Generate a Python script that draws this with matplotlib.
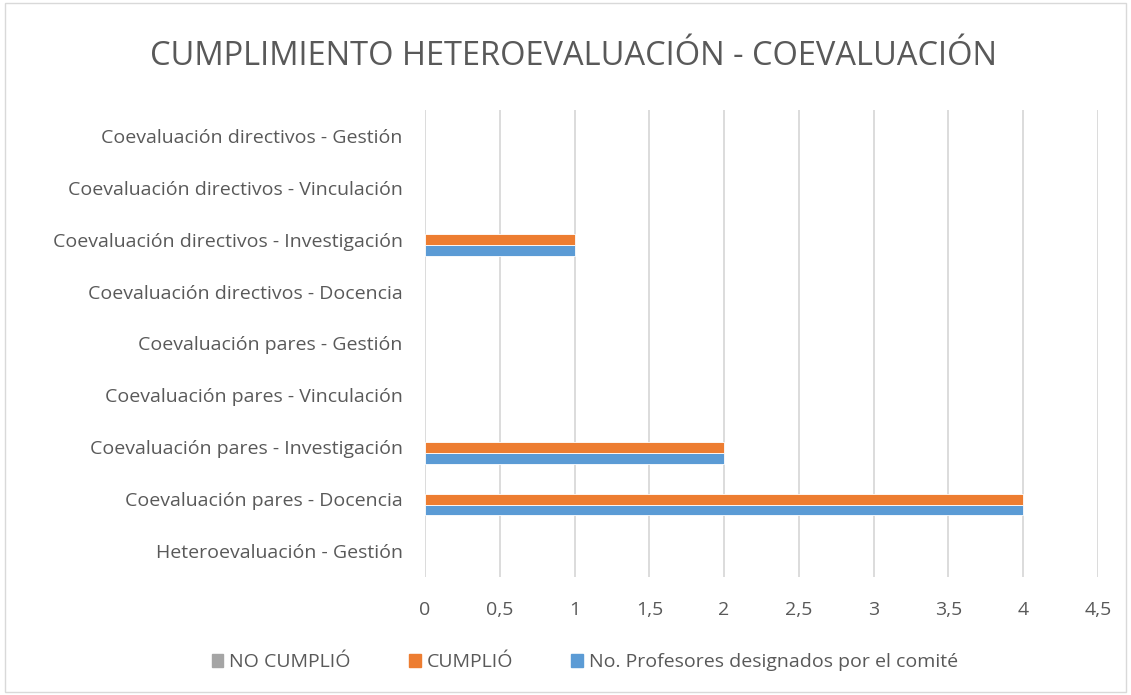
import matplotlib.pyplot as plt
import numpy as np
from matplotlib.patches import Rectangle

categories = [
    'Heteroevaluación - Gestión',
    'Coevaluación pares - Docencia',
    'Coevaluación pares - Investigación',
    'Coevaluación pares - Vinculación',
    'Coevaluación pares - Gestión',
    'Coevaluación directivos - Docencia',
    'Coevaluación directivos - Investigación',
    'Coevaluación directivos - Vinculación',
    'Coevaluación directivos - Gestión',
]
profesores = [0, 4, 2, 0, 0, 0, 1, 0, 0]
cumplio = [0, 4, 2, 0, 0, 0, 1, 0, 0]
no_cumplio = [0, 0, 0, 0, 0, 0, 0, 0, 0]
series_names = ['NO CUMPLIÓ', 'CUMPLIÓ', 'No. Profesores designados por el comité']
xticks = [0, 0.5, 1, 1.5, 2, 2.5, 3, 3.5, 4, 4.5]

TEXT = '#595959'
plt.rcParams['font.family'] = ['Open Sans', 'DejaVu Sans']


def edges(vals):
    return ['white' if v > 0 else 'none' for v in vals]


def main():
    fig = plt.figure(figsize=(11.31, 6.95), dpi=100)
    ax = fig.add_axes([0.3758, 0.1698, 0.595, 0.672])

    y = np.arange(len(categories))
    h = 0.21
    colors = ['#a5a5a5', '#ed7d31', '#5b9bd5']
    ax.barh(y - h, profesores, height=h, color=colors[2], edgecolor=edges(profesores), linewidth=0.6, zorder=3)
    ax.barh(y, cumplio, height=h, color=colors[1], edgecolor=edges(cumplio), linewidth=0.6, zorder=3)
    ax.barh(y + h, no_cumplio, height=h, color=colors[0], edgecolor=edges(no_cumplio), linewidth=0.6, zorder=3)

    ax.set_xlim(0, 4.5)
    ax.set_ylim(-0.5, len(categories) - 0.5)
    ax.set_xticks(xticks)
    ax.set_xticklabels([('%g' % t).replace('.', ',') for t in xticks])
    ax.set_yticks(y)
    ax.set_yticklabels(categories)
    ax.tick_params(length=0, colors=TEXT, labelsize=14)
    ax.tick_params(axis='x', pad=17)
    ax.tick_params(axis='y', pad=16)
    ax.grid(axis='x', color='#d9d9d9', linewidth=1.3, zorder=0)
    for s in ax.spines.values():
        s.set_visible(False)

    fig.text(0.507, 0.918, 'CUMPLIMIENTO HETEROEVALUACIÓN - COEVALUACIÓN',
             ha='center', va='center', fontsize=23.5, color=TEXT)

    handles = [Rectangle((0, 0), 1, 1, color=c) for c in colors]
    fig.legend(handles, series_names, loc='center', bbox_to_anchor=(0.517, 0.047),
               ncol=3, frameon=False, fontsize=14, labelcolor=TEXT,
               handlelength=0.6, handleheight=0.6, handletextpad=0.3, columnspacing=3.0)

    fig.patches.append(Rectangle((0.004, 0.004), 0.992, 0.992, transform=fig.transFigure,
                                 fill=False, edgecolor='#d9d9d9', linewidth=1))
    fig.savefig('out.png', dpi=100)


if __name__ == '__main__':
    main()
